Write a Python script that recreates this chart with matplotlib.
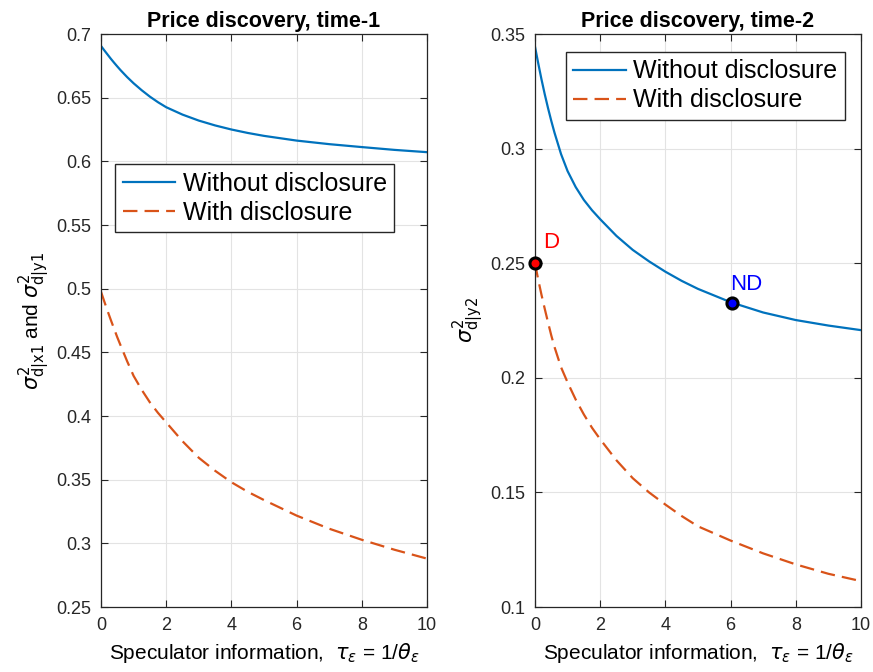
import matplotlib.pyplot as plt
import numpy as np

plt.rcParams['font.family'] = ['Liberation Sans', 'DejaVu Sans']
plt.rcParams['mathtext.fontset'] = 'dejavusans'

# Speculator information values (x axis)
tau = [0, 0.1, 0.2, 0.3, 0.4, 0.5, 0.6, 0.8, 1.0, 1.25, 1.5, 1.75, 2,
       2.5, 3, 3.5, 4, 4.5, 5, 6, 7, 8, 9, 10]

# time-1 variances
t1_without = [0.6906, 0.6872, 0.6839, 0.6806, 0.6775, 0.6745, 0.6716, 0.6662, 0.6613,
              0.6558, 0.6508, 0.6464, 0.6425, 0.6367, 0.6320, 0.6282, 0.6250, 0.6223,
              0.6200, 0.6163, 0.6135, 0.6112, 0.6090, 0.6072]
t1_with = [0.4976, 0.4900, 0.4826, 0.4755, 0.4686, 0.4618, 0.4555, 0.4431, 0.4315,
           0.4205, 0.4107, 0.4024, 0.3950, 0.3802, 0.3672, 0.3570, 0.3480, 0.3405,
           0.3340, 0.3218, 0.3115, 0.3028, 0.2950, 0.2880]

# time-2 variances
t2_without = [0.3445, 0.3372, 0.3302, 0.3237, 0.3177, 0.3121, 0.3069, 0.2976, 0.2902,
              0.2832, 0.2776, 0.2731, 0.2692, 0.2619, 0.2558, 0.2508, 0.2463, 0.2423,
              0.2388, 0.2330, 0.2285, 0.2252, 0.2228, 0.2208]
t2_with = [0.2500, 0.2428, 0.2362, 0.2301, 0.2242, 0.2185, 0.2134, 0.2046, 0.1980,
           0.1905, 0.1840, 0.1782, 0.1732, 0.1640, 0.1562, 0.1500, 0.1447, 0.1397,
           0.1352, 0.1290, 0.1234, 0.1186, 0.1145, 0.1113]

# highlighted points on the time-2 panel
pt_labels = ['D', 'ND']
pt_x = [0, 6.05]
pt_y = [0.250, 0.2325]
pt_colors = ['red', 'blue']
lab_x = [0.25, 6.0]
lab_y = [0.2566, 0.2383]

blue = '#0072BD'
orange = '#D95319'
axis_col = '#262626'
dash = (0, (6.5, 3.2))

fig = plt.figure(figsize=(8.73, 6.72), dpi=100)
ax1 = fig.add_axes([0.1157, 0.0967, 0.3734, 0.8527])
ax2 = fig.add_axes([0.6128, 0.0967, 0.3734, 0.8527])

xlabel = r'Speculator information,  $\tau_{\epsilon}$ = 1/$\theta_{\epsilon}$'
leg_kw = dict(loc='upper left', fontsize=18, fancybox=False, edgecolor=axis_col,
              framealpha=1, handlelength=2.1, borderpad=0.3, labelspacing=0.2,
              handletextpad=0.3, borderaxespad=0)

ax1.plot(tau, t1_without, color=blue, lw=1.6, label='Without disclosure')
ax1.plot(tau, t1_with, color=orange, lw=1.6, linestyle=dash, label='With disclosure')
ax1.set_ylim(0.25, 0.7)
ax1.set_yticks(np.arange(0.25, 0.701, 0.05))
ax1.set_yticklabels(['0.25', '0.3', '0.35', '0.4', '0.45', '0.5', '0.55', '0.6', '0.65', '0.7'])
ax1.set_title('Price discovery, time-1', fontsize=15.5, fontweight='bold', pad=5)
ax1.set_ylabel(r'$\sigma^2_{\mathrm{d|x1}}$ and $\sigma^2_{\mathrm{d|y1}}$', fontsize=15, labelpad=4)
ax1.legend(bbox_to_anchor=(0.043, 0.773), **leg_kw)

ax2.plot(tau, t2_without, color=blue, lw=1.6, label='Without disclosure')
ax2.plot(tau, t2_with, color=orange, lw=1.6, linestyle=dash, label='With disclosure')
for lab, x, y, lx, ly, c in zip(pt_labels, pt_x, pt_y, lab_x, lab_y, pt_colors):
    ax2.plot(x, y, 'o', markersize=8, markerfacecolor=c, markeredgecolor='black',
             markeredgewidth=2.2, zorder=5, clip_on=False)
    ax2.text(lx, ly, lab, color=c, fontsize=16, ha='left', va='baseline')
ax2.set_ylim(0.1, 0.35)
ax2.set_yticks(np.arange(0.1, 0.351, 0.05))
ax2.set_yticklabels(['0.1', '0.15', '0.2', '0.25', '0.3', '0.35'])
ax2.set_title('Price discovery, time-2', fontsize=15.5, fontweight='bold', pad=5)
ax2.set_ylabel(r'$\sigma^2_{\mathrm{d|y2}}$', fontsize=15, labelpad=4)
ax2.legend(bbox_to_anchor=(0.094, 0.969), **leg_kw)

for ax in (ax1, ax2):
    ax.set_xlim(0, 10)
    ax.set_xticks([0, 2, 4, 6, 8, 10])
    ax.set_xlabel(xlabel, fontsize=15, labelpad=5)
    ax.grid(True, color='#e3e3e3', lw=0.8)
    ax.set_axisbelow(True)
    ax.tick_params(direction='in', top=True, right=True, length=5, width=0.8,
                   labelsize=13, colors=axis_col, labelcolor=axis_col, pad=7)
    for s in ax.spines.values():
        s.set_color(axis_col)
        s.set_linewidth(0.9)

plt.savefig('out.png', dpi=100)
